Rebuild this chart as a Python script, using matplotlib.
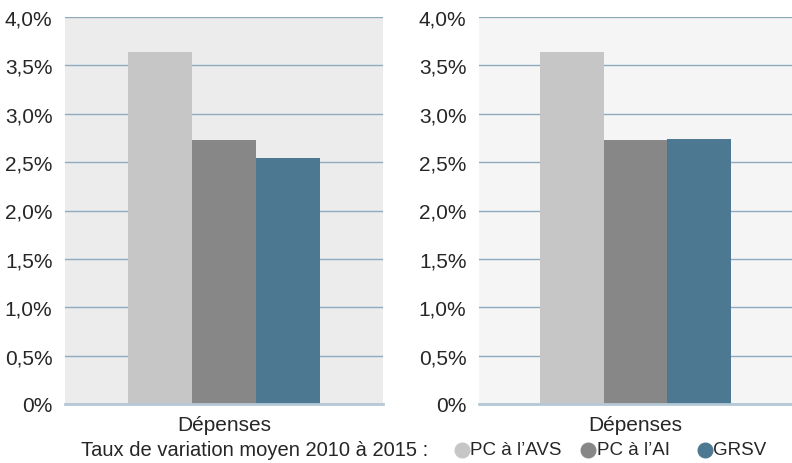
import matplotlib
matplotlib.use("Agg")
import matplotlib.pyplot as plt
from matplotlib.lines import Line2D
from matplotlib.ticker import FuncFormatter, MultipleLocator

plt.rcParams['font.family'] = ['Liberation Sans Narrow', 'Liberation Sans', 'DejaVu Sans']

categories = ["Dépenses"]
series = ["PC à l’AVS", "PC à l’AI", "GRSV"]
colors = ["#c6c6c6", "#878787", "#4d7891"]
left_values = [3.64, 2.73, 2.54]
right_values = [3.64, 2.73, 2.74]
legend_prefix = "Taux de variation moyen 2010 à 2015 :"

W, H = 792, 464
fig = plt.figure(figsize=(W / 100, H / 100), dpi=100)
ax_left = fig.add_axes([65 / W, 1 - 405 / H, 318 / W, 387 / H])
ax_right = fig.add_axes([479 / W, 1 - 405 / H, 313 / W, 387 / H])
text_color = '#262626'


def fmt(v, _):
    if abs(v) < 1e-9:
        return "0%"
    return f"{v:.1f}%".replace(".", ",")


def draw(ax, values, bg, span):
    ax.set_facecolor(bg)
    offsets = [-1, 0, 1]
    for off, val, col in zip(offsets, values, colors):
        ax.bar(off, val, width=1.0, color=col, zorder=3)
    ax.set_xlim(-span / 2, span / 2)
    ax.set_ylim(0, 4.0)
    ax.yaxis.set_major_locator(MultipleLocator(0.5))
    ax.yaxis.set_major_formatter(FuncFormatter(fmt))
    ax.grid(axis='y', color='#8eaabf', linewidth=1.0, zorder=1)
    ax.set_xticks([0])
    ax.set_xticklabels(categories)
    for s in ['top', 'right', 'left']:
        ax.spines[s].set_visible(False)
    ax.spines['bottom'].set_color('#b4c9d5')
    ax.spines['bottom'].set_linewidth(2.0)
    ax.spines['bottom'].set_zorder(4)
    ax.tick_params(axis='both', length=0, labelsize=15, labelcolor=text_color)
    ax.tick_params(axis='y', pad=9)
    ax.tick_params(axis='x', pad=8)


draw(ax_left, left_values, '#ececec', 318 / 63.7)
draw(ax_right, right_values, '#f5f5f5', 313 / 63.7)

# legend row along the bottom
legend_y = 1 - 451 / H
fig.text(81 / W, legend_y, legend_prefix, fontsize=14.5, color=text_color,
         va='center', ha='left')
marker_x = [461.5, 588, 704.5]
label_x = [470, 597, 713]
for mx, lx, col, name in zip(marker_x, label_x, colors, series):
    fig.add_artist(Line2D([mx / W], [1 - 450.5 / H], transform=fig.transFigure,
                          marker='o', linestyle='none', markersize=10.5,
                          markerfacecolor=col, markeredgecolor=col))
    fig.text(lx / W, legend_y, name, fontsize=13.5, color=text_color,
             va='center', ha='left')

fig.savefig("out.png", dpi=100)
